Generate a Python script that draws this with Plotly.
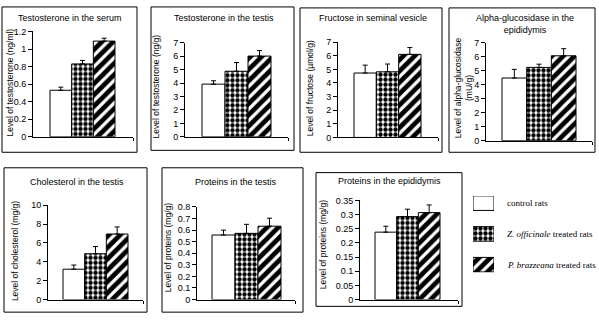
import plotly.graph_objects as go

# ---- data -------------------------------------------------------------
groups = ["control rats", "Z. officinale treated rats", "P. brazzeana treated rats"]

panel_titles = [
    "Testosterone in the serum",
    "Testosterone in the testis",
    "Fructose in seminal vesicle",
    "Alpha-glucosidase in the<br>epididymis",
    "Cholesterol in the testis",
    "Proteins in the testis",
    "Proteins in the epididymis",
]
y_labels = [
    "Level of testosterone (ng/ml)",
    "Level of testosterone (ng/g)",
    "Level of fructose (µmol/g)",
    "Level of alpha-glucosidase<br>(mU/g)",
    "Level of cholesterol (mg/g)",
    "Level of proteins (mg/g)",
    "Level of proteins (mg/g)",
]
y_max = [1.2, 7, 7, 7, 10, 0.8, 0.35]
y_step = [0.2, 1, 1, 1, 2, 0.1, 0.05]

control_mean = [0.53, 3.92, 4.73, 4.48, 3.22, 0.557, 0.238]
control_err = [0.035, 0.25, 0.58, 0.62, 0.44, 0.042, 0.021]
zo_mean = [0.83, 4.88, 4.82, 5.24, 4.86, 0.571, 0.293]
zo_err = [0.04, 0.65, 0.57, 0.23, 0.76, 0.078, 0.026]
pb_mean = [1.09, 6.01, 6.10, 6.07, 6.95, 0.633, 0.307]
pb_err = [0.033, 0.41, 0.50, 0.51, 0.75, 0.069, 0.027]

# ---- page layout (pixels) --------------------------------------------
W, H = 599, 322
FONT = "Liberation Sans"

# plot area: x of y-axis, x of axis end, y of top tick, y of zero line
areas = [(33, 133, 27.3, 136), (185, 288, 39, 136), (338, 438, 38.3, 136.7),
         (486, 592, 39, 140), (48, 143, 206.7, 304), (197, 295, 208.3, 304),
         (360, 458, 201.7, 304)]
# horizontal extent of the bar group inside each plot area
bar_spans = [(50, 115), (202, 271), (354, 421), (502, 576), (63, 128),
             (212, 281), (375, 440)]
frames = [(2, 2, 137, 152), (151, 2, 294, 150), (300, 3, 442, 152),
          (449, 3, 595, 152), (4, 168, 147, 317), (162, 168, 303, 317),
          (316, 173, 462, 311)]
title_pos = [(70, 13), (224, 13), (373, 13), (525, 20), (77, 183), (236, 183), (389, 182)]
ylabel_pos = [(10, 80), (156, 84), (310, 86), (463, 86), (15, 254), (168, 251), (323, 248)]

BARGAP = 0.34

DOTS = dict(shape=".", fgcolor="black", bgcolor="white", fgopacity=1, size=5, solidity=0.6)
HATCH = dict(shape="/", fgcolor="black", bgcolor="white", fgopacity=1, size=8, solidity=0.6)


def fx(p):
    return p / W


def fy(p):
    return 1 - p / H


styles = [
    dict(color="white", pattern=dict(shape="")),
    dict(color="white", pattern=DOTS),
    dict(color="white", pattern=HATCH),
]
means = [control_mean, zo_mean, pb_mean]
errs = [control_err, zo_err, pb_err]

fig = go.Figure()
layout_axes = {}
annotations = []
shapes = []

half = (1 - BARGAP) / 2
for i in range(7):
    n = "" if i == 0 else str(i + 1)
    for g in range(3):
        fig.add_trace(go.Bar(
            x=[0], y=[means[g][i]], name=groups[g], showlegend=False,
            xaxis="x" + n, yaxis="y" + n,
            marker=dict(line=dict(color="black", width=1), **styles[g]),
            error_y=dict(type="data", symmetric=False, array=[errs[g][i]],
                         arrayminus=[0], color="black", thickness=1, width=2.5),
        ))
    x0, x1, ytop, ybot = areas[i]
    l, r = bar_spans[i]
    scale = (r - l) / (2 * half)
    a = -half - (l - x0) / scale
    b = half + (x1 - r) / scale
    layout_axes["xaxis" + n] = dict(
        domain=[fx(x0), fx(x1)], anchor="y" + n, range=[a, b],
        showgrid=False, zeroline=False, showline=True, linecolor="black", linewidth=1,
        tickvals=[b], ticks="outside", ticklen=3, tickcolor="black",
        showticklabels=False, fixedrange=True,
    )
    layout_axes["yaxis" + n] = dict(
        domain=[fy(ybot), fy(ytop)], anchor="x" + n, range=[0, y_max[i]],
        dtick=y_step[i], tick0=0, showgrid=False, zeroline=False, showline=True,
        linecolor="black", linewidth=1, ticks="outside", ticklen=4, tickcolor="black",
        tickfont=dict(family=FONT, size=9, color="black"),
    )
    fx0, fy0, fx1, fy1 = frames[i]
    shapes.append(dict(type="rect", xref="paper", yref="paper",
                       x0=fx(fx0), x1=fx(fx1), y0=fy(fy1), y1=fy(fy0),
                       line=dict(color="black", width=1)))
    tx, ty = title_pos[i]
    annotations.append(dict(text=panel_titles[i], x=fx(tx), y=fy(ty), xref="paper",
                            yref="paper", showarrow=False, xanchor="center",
                            yanchor="middle", font=dict(family=FONT, size=9, color="black")))
    lx, ly = ylabel_pos[i]
    annotations.append(dict(text=y_labels[i], x=fx(lx), y=fy(ly), xref="paper",
                            yref="paper", showarrow=False, textangle=-90,
                            xanchor="center", yanchor="middle",
                            font=dict(family=FONT, size=8.5, color="black")))

# ---- key: pattern swatches with their labels -------------------------
key_top, key_bot = 197, 276
key_centres = [204.5, 236.5, 268]
step = (key_centres[2] - key_centres[0]) / 2
fig.add_trace(go.Bar(
    y=[0, 1, 2], x=[1, 1, 1], orientation="h", width=15 / step, showlegend=False,
    xaxis="x8", yaxis="y8",
    marker=dict(color="white", line=dict(color="black", width=1),
                pattern=dict(shape=["", ".", "/"], fgcolor="black", bgcolor="white",
                             fgopacity=1,
                             size=[8, DOTS["size"], HATCH["size"]],
                             solidity=[0.3, DOTS["solidity"], HATCH["solidity"]])),
))
layout_axes["xaxis8"] = dict(domain=[fx(473), fx(494)], anchor="y8", range=[0, 1],
                             visible=False)
layout_axes["yaxis8"] = dict(domain=[fy(key_bot), fy(key_top)], anchor="x8",
                             range=[2 + (key_bot - key_centres[2]) / step,
                                    -(key_centres[0] - key_top) / step],
                             visible=False)
key_text = ["control rats", "<i>Z. officinale</i> treated rats",
            "<i>P. brazzeana</i> treated rats"]
for t, yc in zip(key_text, key_centres):
    annotations.append(dict(text=t, x=fx(505), y=fy(yc), xref="paper", yref="paper",
                            showarrow=False, xanchor="left", yanchor="middle",
                            font=dict(family="Liberation Serif", size=9, color="black")))

fig.update_layout(
    width=W, height=H, margin=dict(l=0, r=0, t=0, b=0),
    paper_bgcolor="white", plot_bgcolor="white",
    barmode="group", bargap=BARGAP, bargroupgap=0,
    shapes=shapes, annotations=annotations, showlegend=False,
    **layout_axes,
)

fig.write_html("out.html")
